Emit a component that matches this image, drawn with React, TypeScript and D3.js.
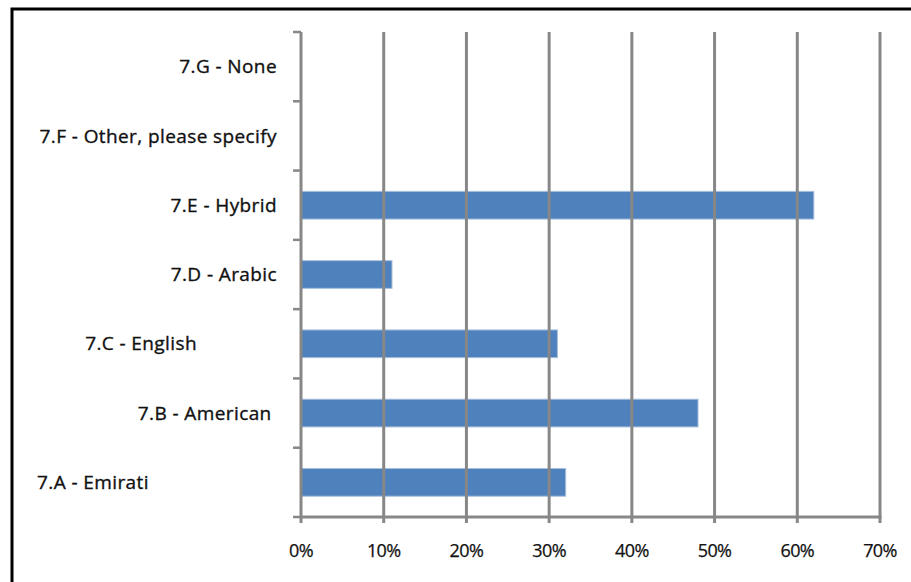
import React from "react";
import * as d3 from "d3";

const categories = [
  "7.G - None",
  "7.F - Other, please specify",
  "7.E - Hybrid",
  "7.D - Arabic",
  "7.C - English               ",
  "7.B - American ",
  "7.A - Emirati                        ",
];
const values = [0, 0, 62, 11, 31, 48, 32];
const xTicks = [0, 10, 20, 30, 40, 50, 60, 70];

const W = 911;
const H = 582;
const left = 301;
const right = 880;
const top = 32;
const bottom = 517;

export default function App() {
  const x = d3.scaleLinear().domain([0, 70]).range([left, right]);
  const y = d3
    .scaleBand<string>()
    .domain(categories)
    .range([top, bottom])
    .paddingInner(0.6)
    .paddingOuter(0.3);
  const step = y.step();
  const bounds = d3.range(categories.length + 1).map((i) => top + i * step);
  const grey = "#878787";
  const font = "'Open Sans', sans-serif";

  return (
    <svg
      width={W}
      height={H}
      style={{ position: "absolute", left: 0, top: 0, background: "#fff" }}
    >
      <rect x={12} y={9} width={1000} height={700} fill="#fff" stroke="#000" strokeWidth={3} />
      {categories.map((c, i) => (
        <rect
          key={c}
          x={x(0)}
          y={y(c)!}
          width={x(values[i]) - x(0)}
          height={y.bandwidth()}
          fill="#4F81BD"
          stroke="#a7bfdc"
          strokeWidth={values[i] > 0 ? 1 : 0}
        />
      ))}
      {xTicks.slice(1).map((t) => (
        <line key={t} x1={x(t)} x2={x(t)} y1={top} y2={bottom + 6} stroke={grey} strokeWidth={3} />
      ))}
      <line x1={left} x2={left} y1={top} y2={bottom + 6} stroke={grey} strokeWidth={3} />
      <line x1={left} x2={right + 1.5} y1={bottom} y2={bottom} stroke={grey} strokeWidth={3} />
      {bounds.map((b, i) => (
        <line key={i} x1={left - 8} x2={left} y1={b} y2={b} stroke={grey} strokeWidth={2.5} />
      ))}
      {categories.map((c) => (
        <text
          key={c}
          x={277}
          y={y(c)! + y.bandwidth() / 2}
          dy="0.35em"
          textAnchor="end"
          fontFamily={font}
          fontSize={19}
          letterSpacing={0.4}
          fill="#111"
          stroke="#111"
          strokeWidth={0.35}
          style={{ whiteSpace: "pre" }}
          xmlSpace="preserve"
        >
          {c}
        </text>
      ))}
      {xTicks.map((t) => (
        <text
          key={t}
          x={x(t)}
          y={551}
          dy="0.35em"
          textAnchor="middle"
          fontFamily={font}
          fontSize={18}
          letterSpacing={-0.6}
          fill="#111"
          stroke="#111"
          strokeWidth={0.25}
        >
          {t + "%"}
        </text>
      ))}
    </svg>
  );
}
